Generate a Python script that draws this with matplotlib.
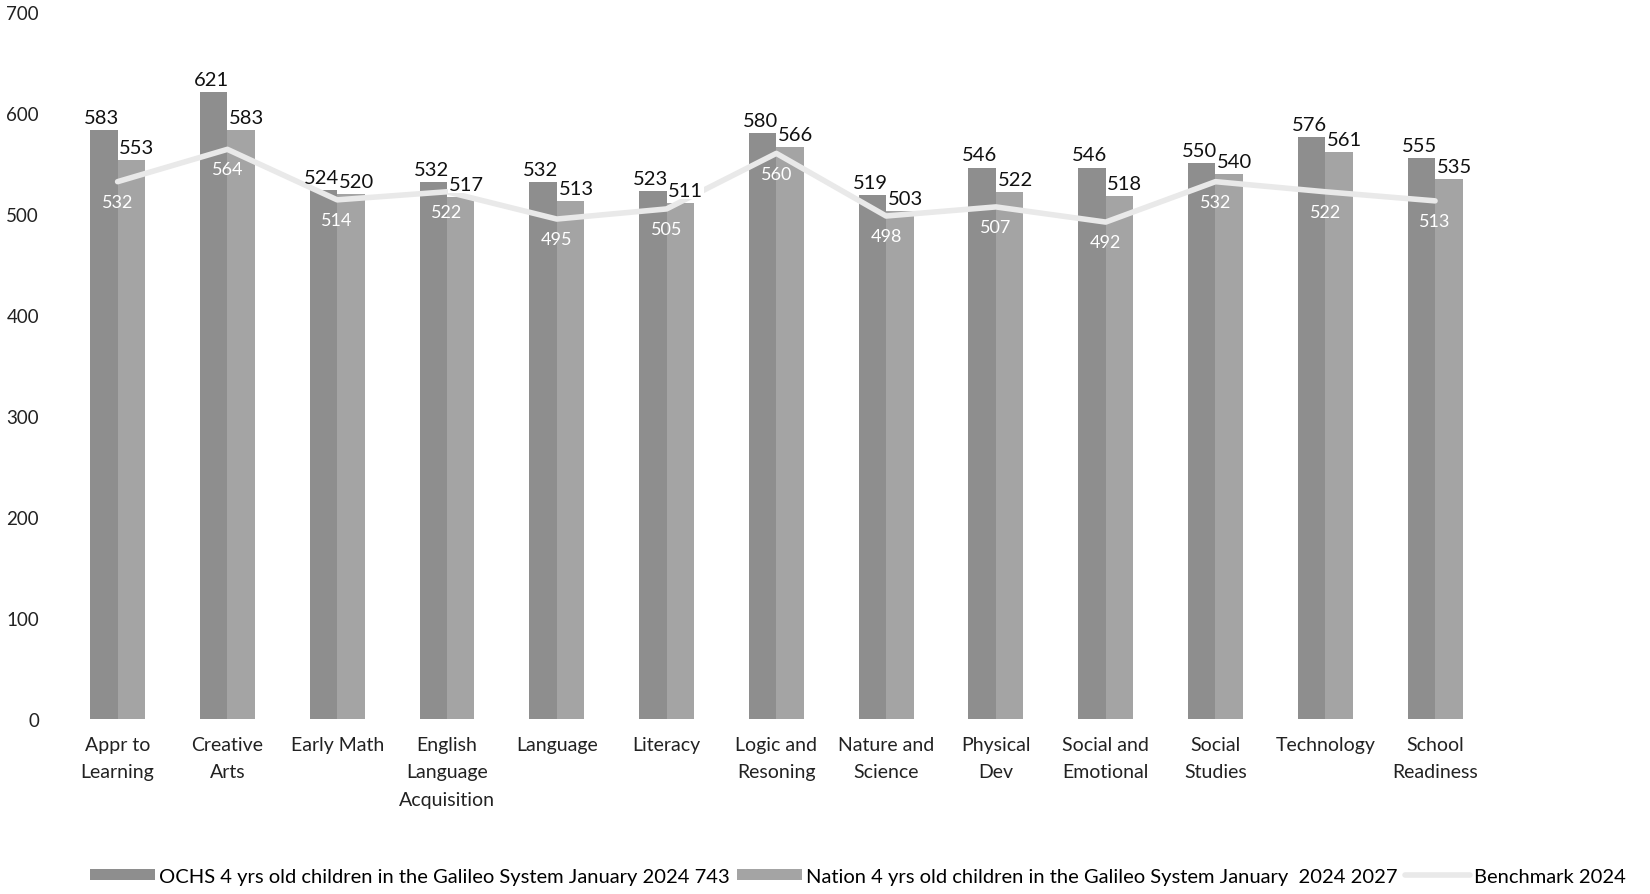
import numpy as np
import matplotlib.pyplot as plt

plt.rcParams['font.family'] = ['Lato', 'DejaVu Sans']

categories = ['Appr to\nLearning', 'Creative\nArts', 'Early Math', 'English\nLanguage\nAcquisition',
              'Language', 'Literacy', 'Logic and\nResoning', 'Nature and\nScience', 'Physical\nDev',
              'Social and\nEmotional', 'Social\nStudies', 'Technology', 'School\nReadiness']
ochs = [583, 621, 524, 532, 532, 523, 580, 519, 546, 546, 550, 576, 555]
nation = [553, 583, 520, 517, 513, 511, 566, 503, 522, 518, 540, 561, 535]
benchmark = [532, 564, 514, 522, 495, 505, 560, 498, 507, 492, 532, 522, 513]

ochs_label = 'OCHS 4 yrs old children in the Galileo System January 2024 743'
nation_label = 'Nation 4 yrs old children in the Galileo System January  2024 2027'
bench_label = 'Benchmark 2024'

fig = plt.figure(figsize=(16.5, 8.95), dpi=100)
ax = fig.add_axes([0.038, 0.1955, 0.865, 0.79])

x = np.arange(len(categories))
w = 0.25
b1 = ax.bar(x - w / 2, ochs, w, color='#8e8e8e', label=ochs_label, zorder=2)
b2 = ax.bar(x + w / 2, nation, w, color='#a4a4a4', label=nation_label, zorder=2)
ln, = ax.plot(x, benchmark, color='#e9e9e9', lw=4, label=bench_label, zorder=3, solid_capstyle='round')

for xi, v in zip(x, ochs):
    ax.text(xi - w / 2 - 0.02, v + 4, str(v), ha='center', va='bottom', fontsize=14.5, color='#111111', zorder=4)
for xi, v in zip(x, nation):
    ax.text(xi + w / 2 + 0.05, v + 4, str(v), ha='center', va='bottom', fontsize=14.5, color='#111111', zorder=4,
            bbox=dict(facecolor='white', edgecolor='none', pad=0.5))
for xi, v in zip(x, benchmark):
    ax.text(xi, v - 12, str(v), ha='center', va='top', fontsize=13, color='white', zorder=4)

ax.set_xlim(-0.5, len(categories) - 0.5)
ax.set_ylim(0, 700)
ax.set_yticks(range(0, 701, 100))
ax.set_xticks(x)
ax.set_xticklabels(categories, fontsize=14, color='#222222', linespacing=1.75)
ax.tick_params(axis='y', labelsize=13.5, colors='#222222', length=0, pad=17)
ax.tick_params(axis='x', length=0, pad=12)
for s in ax.spines.values():
    s.set_visible(False)

fig.legend(handles=[b1, b2, ln], loc='center', bbox_to_anchor=(0.52, 0.02), ncol=3, frameon=False,
           fontsize=14.5, handlelength=3.2, handleheight=0.5, columnspacing=0.4, handletextpad=0.2)

fig.savefig('out.png', dpi=100, facecolor='white')
